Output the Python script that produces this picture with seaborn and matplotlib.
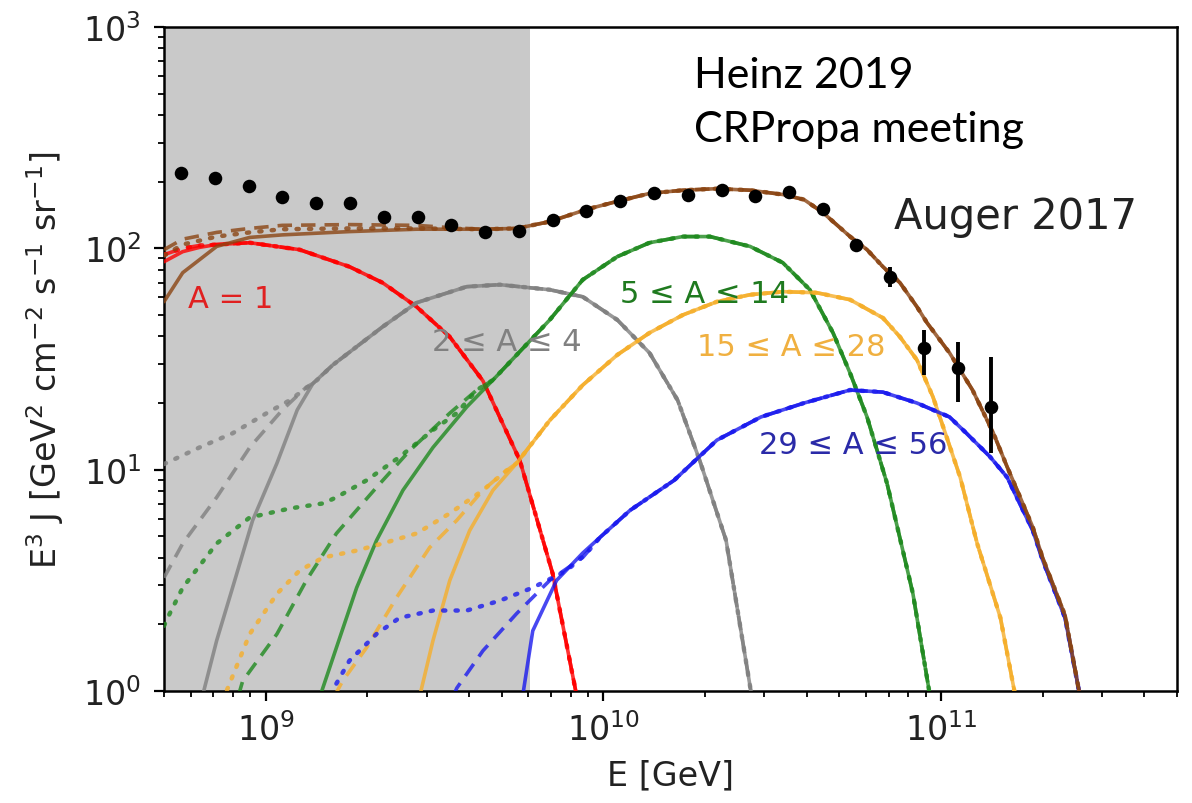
import numpy as np
import matplotlib
matplotlib.use("Agg")
import matplotlib.pyplot as plt
import seaborn as sns

# ---------------- data ----------------
# Auger 2017 data points
E_data = [5.62e8, 7.08e8, 8.91e8, 1.12e9, 1.41e9, 1.78e9, 2.24e9, 2.82e9, 3.55e9, 4.47e9,
          5.62e9, 7.08e9, 8.91e9, 1.12e10, 1.41e10, 1.78e10, 2.24e10, 2.82e10, 3.55e10, 4.47e10,
          5.62e10, 7.08e10, 8.91e10, 1.12e11, 1.41e11]
J_data = [220, 207, 192, 170, 160, 160, 138, 138, 127, 119,
          120, 134, 148, 164, 177, 175, 183, 173, 179, 151,
          103, 74.4, 35.5, 28.8, 19.2]
err_minus = [2, 2, 2, 2, 2, 2, 2, 2, 2, 2, 2, 2, 2, 2, 2, 2, 2, 3, 3, 4, 5, 7.4, 8.7, 8.6, 7.3]
err_plus = [2, 2, 2, 2, 2, 2, 2, 2, 2, 2, 2, 2, 2, 2, 2, 2, 2, 3, 3, 4, 5, 8.2, 7.3, 9.0, 13.1]

# A = 1
red_E = [5.0e8, 5.68e8, 6.37e8, 7.16e8, 8.97e8, 1.26e9, 1.77e9, 2.22e9, 2.80e9, 3.51e9,
         4.40e9, 5.66e9, 7.08e9, 8.34e9]
red_J = [87.0, 96.6, 101, 104, 106, 98.6, 82.6, 69.9, 54.4, 39.8, 25.2, 11.0, 3.39, 0.95]
red_low_E = [5.0e8, 5.68e8, 6.37e8]
red_low_J = [93.6, 100, 103]

# 2 <= A <= 4
gray_E = [6.5e8, 7.16e8, 7.98e8, 9.15e8, 1.08e9, 1.24e9, 1.38e9, 1.58e9, 2.22e9, 2.80e9,
          3.94e9, 4.94e9, 6.94e9, 8.69e9, 1.10e10, 1.37e10, 1.66e10, 1.93e10, 2.31e10, 2.75e10]
gray_J = [0.95, 1.69, 2.93, 5.90, 10.7, 18.6, 24.5, 29.7, 44.2, 56.8,
          67.1, 68.5, 65.0, 60.4, 47.5, 33.7, 20.6, 11.0, 4.79, 0.95]
gray_dash_E = [5.0e8, 5.68e8, 7.16e8, 8.97e8, 1.12e9, 1.32e9]
gray_dash_J = [3.25, 4.64, 7.50, 12.6, 18.6, 23.6]
gray_dot_E = [5.0e8, 6.37e8, 7.98e8, 1.007e9, 1.18e9, 1.42e9]
gray_dot_J = [10.6, 12.6, 14.6, 18.0, 20.6, 25.4]

# 5 <= A <= 14
green_E = [1.45e9, 1.62e9, 1.86e9, 2.13e9, 2.55e9, 3.13e9, 3.94e9, 4.71e9, 6.94e9, 8.69e9,
           1.10e10, 1.37e10, 1.72e10, 2.07e10, 2.72e10, 3.40e10, 4.09e10, 4.79e10, 5.38e10,
           6.04e10, 6.92e10, 7.56e10, 8.26e10, 9.28e10]
green_J = [0.95, 1.57, 2.93, 4.79, 8.07, 12.6, 19.2, 25.4, 47.5, 72.1,
           91.7, 106, 113, 113, 102, 86.1, 65.0, 41.5, 27.3,
           17.3, 8.68, 4.9, 2.75, 0.95]
green_dash_E = [8.3e8, 8.55e8, 1.08e9, 1.32e9, 1.62e9, 2.13e9, 2.67e9, 3.51e9, 4.22e9]
green_dash_J = [0.95, 1.11, 1.81, 3.16, 5.15, 8.32, 12.2, 18.0, 22.9]
green_dot_E = [5.0e8, 5.2e8, 5.68e8, 7.16e8, 8.97e8, 1.18e9, 1.48e9, 1.62e9, 1.99e9, 2.49e9,
               3.13e9, 3.68e9, 4.22e9]
green_dot_J = [1.97, 2.24, 2.93, 4.64, 6.08, 6.68, 7.04, 7.50, 8.95, 11.4, 15.1, 18.0, 22.9]

# 15 <= A <= 28
orange_E = [2.86e9, 3.13e9, 3.51e9, 4.02e9, 4.71e9, 5.54e9, 6.94e9, 8.69e9, 1.10e10, 1.37e10,
            1.72e10, 2.17e10, 2.72e10, 3.40e10, 4.29e10, 5.38e10, 6.73e10, 7.56e10, 8.49e10,
            9.47e10, 1.04e11, 1.14e11, 1.28e11, 1.50e11, 1.66e11]
orange_J = [0.95, 1.69, 3.16, 5.31, 8.07, 10.7, 16.7, 24.1, 33.0, 41.5,
            50.0, 57.4, 61.7, 63.7, 63.0, 58.6, 48.5, 39.8, 31.3,
            21.3, 14.0, 9.24, 4.64, 2.14, 0.95]
orange_dash_E = [1.6e9, 1.69e9, 1.99e9, 2.44e9, 3.06e9, 3.68e9, 4.40e9, 5.04e9]
orange_dash_J = [0.95, 1.11, 1.57, 2.64, 4.45, 5.90, 8.07, 9.63]
orange_dot_E = [7.4e8, 7.66e8, 8.97e8, 1.08e9, 1.26e9, 1.48e9, 1.86e9, 2.22e9, 2.80e9, 3.51e9,
                4.40e9, 5.18e9]
orange_dot_J = [0.9, 1.0, 1.81, 2.75, 3.50, 4.01, 4.31, 4.64, 5.15, 6.35, 8.07, 9.94]

# 29 <= A <= 56
blue_E = [5.77e9, 6.18e9, 7.27e9, 8.69e9, 9.77e9, 1.20e10, 1.62e10, 2.17e10, 2.93e10, 3.93e10,
          5.38e10, 6.73e10, 8.49e10, 1.06e11, 1.19e11, 1.40e11, 1.57e11, 1.71e11, 1.87e11,
          2.00e11, 2.33e11, 2.58e11]
blue_J = [0.95, 1.87, 3.16, 4.2, 4.94, 6.55, 8.95, 13.6, 17.3, 20.0,
          22.9, 22.4, 20.0, 17.3, 14.6, 11.4, 9.24, 7.04, 5.31,
          3.9, 2.14, 0.95]
blue_dash_E = [3.6e9, 3.68e9, 4.40e9, 5.54e9, 6.94e9, 8.69e9]
blue_dash_J = [0.95, 1.03, 1.52, 2.24, 3.16, 4.01]
blue_dot_E = [1.6e9, 1.62e9, 1.77e9, 2.13e9, 2.49e9, 3.13e9, 3.94e9, 4.94e9, 6.18e9, 7.79e9, 8.93e9]
blue_dot_J = [0.95, 1.08, 1.37, 1.81, 2.14, 2.31, 2.31, 2.56, 2.93, 3.50, 4.2]

# total
brown_E = [5.0e8, 5.68e8, 7.16e8, 8.97e8, 1.12e9, 1.77e9, 2.80e9, 4.40e9, 5.54e9, 6.94e9,
           8.93e9, 1.10e10, 1.37e10, 1.72e10, 2.17e10, 2.72e10, 3.40e10, 3.93e10, 4.47e10,
           5.38e10, 6.04e10, 6.73e10, 7.56e10, 8.49e10, 9.09e10, 1.06e11, 1.24e11, 1.43e11,
           1.57e11, 1.71e11, 1.87e11, 2.00e11, 2.33e11, 2.58e11]
brown_J = [57.4, 77.6, 102, 112, 115, 119, 122, 122, 123, 132,
           150, 163, 177, 183, 186, 183, 175, 166, 145,
           113, 98.6, 82.6, 69.9, 54.4, 46.1, 33.7, 22.9, 14.6,
           10.3, 7.6, 5.5, 4.0, 2.2, 0.95]
brown_dash_E = [5.0e8, 5.68e8, 7.16e8, 8.97e8, 1.12e9, 1.77e9, 2.80e9, 3.51e9]
brown_dash_J = [98.6, 110, 118, 123, 127, 128, 127, 124]
brown_dot_E = [5.0e8, 5.68e8, 7.16e8, 8.97e8, 1.12e9, 1.77e9, 2.80e9]
brown_dot_J = [92.7, 104, 113, 118, 122, 123, 123]

E_shade = [5.0e8, 6.05e9]
x_range = [5e8, 5e11]
y_range = [1, 1e3]

# ---------------- style ----------------
sns.set_theme(style="ticks")
plt.rcParams["font.family"] = ["DejaVu Sans"]
plt.rcParams["mathtext.fontset"] = "dejavusans"

fig = plt.figure(figsize=(11.92, 8.04), dpi=100)
ax = fig.add_axes([0.1376, 0.1393, 0.9874 - 0.1376, 0.9652 - 0.1393])
ax.set_xscale("log")
ax.set_yscale("log")
ax.set_facecolor("white")

ax.axvspan(E_shade[0], E_shade[1], color="#c9c9c9", lw=0, zorder=0)


def join(lowE, lowJ, E, J):
    cut = lowE[-1]
    E2 = list(lowE) + [e for e in E if e > cut]
    J2 = list(lowJ) + [j for e, j in zip(E, J) if e > cut]
    return E2, J2


components = [
    ("red", red_E, red_J, (red_low_E, red_low_J), (red_low_E, red_low_J)),
    ("#808080", gray_E, gray_J, (gray_dash_E, gray_dash_J), (gray_dot_E, gray_dot_J)),
    ("#1f8a1f", green_E, green_J, (green_dash_E, green_dash_J), (green_dot_E, green_dot_J)),
    ("#f5ae2a", orange_E, orange_J, (orange_dash_E, orange_dash_J), (orange_dot_E, orange_dot_J)),
    ("#1a1aee", blue_E, blue_J, (blue_dash_E, blue_dash_J), (blue_dot_E, blue_dot_J)),
    ("#8b4513", brown_E, brown_J, (brown_dash_E, brown_dash_J), (brown_dot_E, brown_dot_J)),
]

for col, E, J, dash, dot in components:
    sns.lineplot(x=E, y=J, ax=ax, color=col, lw=2.6, alpha=0.8, linestyle="-",
                 estimator=None, sort=False, zorder=3)
    dE, dJ = join(dash[0], dash[1], E, J)
    sns.lineplot(x=dE, y=dJ, ax=ax, color=col, lw=2.6, alpha=0.8, linestyle=(0, (4, 2.5)),
                 estimator=None, sort=False, zorder=3)
    oE, oJ = join(dot[0], dot[1], E, J)
    sns.lineplot(x=oE, y=oJ, ax=ax, color=col, lw=3.2, alpha=0.8, linestyle=(0, (0.5, 2.3)),
                 dash_capstyle="round", estimator=None, sort=False, zorder=3)

ax.errorbar(E_data, J_data, yerr=[err_minus, err_plus], fmt="none", ecolor="black",
            elinewidth=2.8, capsize=0, zorder=5)
sns.scatterplot(x=E_data, y=J_data, ax=ax, color="black", s=95, edgecolor="black",
                linewidth=0, zorder=6)

ax.set_xlim(*x_range)
ax.set_ylim(*y_range)

# labels
lab_fs = 22
ax.text(5.88e8, 54.4, "A = 1", color="#e02020", fontsize=lab_fs, va="baseline", ha="left")
ax.text(3.10e9, 34.8, "2 \u2264 A \u2264 4", color="#808080", fontsize=lab_fs, va="baseline", ha="left")
ax.text(1.12e10, 57.4, "5 \u2264 A \u2264 14", color="#1f7a1f", fontsize=lab_fs, va="baseline", ha="left")
ax.text(1.89e10, 33.0, "15 \u2264 A \u2264 28", color="#f0b040", fontsize=lab_fs, va="baseline", ha="left")
ax.text(2.89e10, 11.9, "29 \u2264 A \u2264 56", color="#2a2aa8", fontsize=lab_fs, va="baseline", ha="left")
ax.text(7.26e10, 124, "Auger 2017", color="#222222", fontsize=30, va="baseline", ha="left")

fig.text(0.582, 0.8905, "Heinz 2019", fontsize=31, family=["Lato", "DejaVu Sans"], color="black",
         va="baseline", ha="left")
fig.text(0.582, 0.8234, "CRPropa meeting", fontsize=31, family=["Lato", "DejaVu Sans"], color="black",
         va="baseline", ha="left")

ax.set_xlabel("E [GeV]", fontsize=24, color="#222222", labelpad=8)
ax.set_ylabel(r"E$^3$ J [GeV$^2$ cm$^{-2}$ s$^{-1}$ sr$^{-1}$]", fontsize=24, color="#222222",
              labelpad=12)

for sp in ax.spines.values():
    sp.set_linewidth(1.8)
    sp.set_color("black")
ax.tick_params(axis="both", which="major", direction="out", length=7.5, width=1.6,
               labelsize=24, colors="black", labelcolor="#222222")
ax.tick_params(axis="both", which="minor", direction="out", length=4.5, width=1.3, colors="black")
ax.tick_params(axis="y", which="major", pad=9)
ax.tick_params(axis="x", which="major", pad=8)
ax.tick_params(top=False, right=False, which="both")

fig.savefig("out.png", dpi=100)
